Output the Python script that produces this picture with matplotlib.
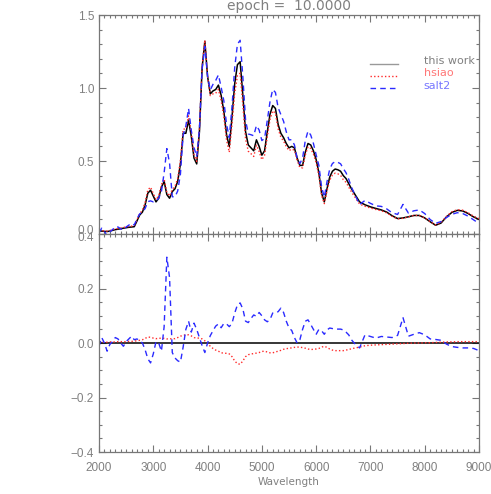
import numpy as np
import matplotlib
matplotlib.use('Agg')
import matplotlib.pyplot as plt
import matplotlib.transforms as mtransforms

# wavelength grid: 50 A steps to 6700, then 100 A steps to 9000
wave = np.concatenate([np.arange(2000, 6701, 50), np.arange(6800, 9001, 100)])

this_work = [
    0.020, 0.020, 0.018, 0.017, 0.020, 0.025, 0.030, 0.033, 0.036, 0.040,
    0.043, 0.046, 0.048, 0.050, 0.090, 0.130, 0.150, 0.200, 0.280, 0.300,
    0.260, 0.220, 0.245, 0.320, 0.360, 0.270, 0.245, 0.290, 0.310, 0.360,
    0.480, 0.690, 0.690, 0.780, 0.670, 0.520, 0.480, 0.700, 1.140, 1.320,
    1.080, 0.960, 0.980, 0.990, 1.020, 0.950, 0.840, 0.680, 0.600, 0.800,
    1.030, 1.160, 1.180, 0.950, 0.700, 0.610, 0.590, 0.570, 0.645, 0.600,
    0.540, 0.570, 0.700, 0.820, 0.880, 0.860, 0.750, 0.690, 0.660, 0.620,
    0.590, 0.600, 0.590, 0.520, 0.470, 0.470, 0.560, 0.620, 0.610, 0.570,
    0.510, 0.420, 0.280, 0.220, 0.310, 0.390, 0.430, 0.445, 0.440, 0.430,
    0.400, 0.380, 0.345, 0.310, 0.280,
    0.220, 0.200, 0.186, 0.175, 0.165, 0.150, 0.125, 0.106, 0.110, 0.118,
    0.127, 0.127, 0.110, 0.084, 0.060, 0.075, 0.117, 0.148, 0.162, 0.158,
    0.140, 0.117, 0.100,
]

hsiao = [
    0.023, 0.023, 0.021, 0.020, 0.024, 0.029, 0.034, 0.038, 0.041, 0.045,
    0.048, 0.052, 0.054, 0.057, 0.098, 0.140, 0.162, 0.217, 0.302, 0.321,
    0.278, 0.236, 0.262, 0.338, 0.377, 0.285, 0.260, 0.306, 0.326, 0.380,
    0.505, 0.718, 0.720, 0.810, 0.696, 0.540, 0.498, 0.718, 1.155, 1.328,
    1.080, 0.948, 0.960, 0.964, 0.990, 0.914, 0.803, 0.642, 0.560, 0.750,
    0.964, 1.084, 1.102, 0.884, 0.650, 0.567, 0.550, 0.531, 0.608, 0.565,
    0.509, 0.540, 0.667, 0.784, 0.844, 0.827, 0.720, 0.663, 0.637, 0.599,
    0.571, 0.582, 0.574, 0.505, 0.455, 0.453, 0.541, 0.598, 0.586, 0.547,
    0.488, 0.400, 0.265, 0.208, 0.294, 0.368, 0.404, 0.417, 0.412, 0.402,
    0.372, 0.354, 0.321, 0.289, 0.261,
    0.205, 0.190, 0.178, 0.168, 0.159, 0.145, 0.121, 0.103, 0.108, 0.117,
    0.127, 0.127, 0.111, 0.085, 0.062, 0.078, 0.121, 0.152, 0.167, 0.163,
    0.145, 0.122, 0.105,
]

salt2 = [
    0.008, 0.040, 0.018, -0.013, 0.015, 0.030, 0.050, 0.048, 0.036, 0.028,
    0.048, 0.061, 0.073, 0.062, 0.105, 0.138, 0.150, 0.175, 0.222, 0.227,
    0.220, 0.225, 0.245, 0.290, 0.420, 0.585, 0.485, 0.255, 0.255, 0.295,
    0.410, 0.675, 0.740, 0.860, 0.710, 0.593, 0.530, 0.720, 1.130, 1.285,
    1.080, 0.987, 1.025, 1.052, 1.090, 1.006, 0.912, 0.750, 0.660, 0.872,
    1.140, 1.300, 1.327, 1.075, 0.780, 0.685, 0.680, 0.673, 0.743, 0.712,
    0.640, 0.655, 0.778, 0.906, 0.990, 0.970, 0.865, 0.818, 0.772, 0.700,
    0.645, 0.646, 0.610, 0.520, 0.482, 0.520, 0.640, 0.705, 0.678, 0.620,
    0.542, 0.470, 0.325, 0.252, 0.358, 0.445, 0.483, 0.496, 0.491, 0.481,
    0.448, 0.420, 0.375, 0.322, 0.280,
    0.202, 0.230, 0.210, 0.193, 0.189, 0.172, 0.145, 0.134, 0.203, 0.143,
    0.159, 0.165, 0.140, 0.099, 0.073, 0.085, 0.113, 0.135, 0.146, 0.140,
    0.122, 0.097, 0.072,
]

# residuals (model - this work)
resid_hsiao = [
    0.003, 0.003, 0.003, 0.003, 0.004, 0.004, 0.004, 0.005, 0.005, 0.005,
    0.005, 0.006, 0.006, 0.007, 0.008, 0.010, 0.012, 0.017, 0.022, 0.021,
    0.018, 0.016, 0.017, 0.018, 0.017, 0.015, 0.015, 0.016, 0.016, 0.020,
    0.025, 0.028, 0.030, 0.030, 0.026, 0.020, 0.018, 0.018, 0.015, 0.008,
    0.000, -0.012, -0.020, -0.026, -0.030, -0.036, -0.037, -0.038, -0.040, -0.050,
    -0.066, -0.076, -0.078, -0.066, -0.050, -0.043, -0.040, -0.039, -0.037, -0.035,
    -0.031, -0.030, -0.033, -0.036, -0.036, -0.033, -0.030, -0.027, -0.023, -0.021,
    -0.019, -0.018, -0.016, -0.015, -0.015, -0.017, -0.019, -0.022, -0.024, -0.023,
    -0.022, -0.020, -0.015, -0.012, -0.016, -0.022, -0.026, -0.028, -0.028, -0.028,
    -0.028, -0.026, -0.024, -0.021, -0.019,
    -0.015, -0.010, -0.008, -0.007, -0.006, -0.005, -0.004, -0.003, -0.002, -0.001,
    0.000, 0.000, 0.001, 0.001, 0.002, 0.003, 0.004, 0.004, 0.005, 0.005,
    0.005, 0.005, 0.005,
]

resid_salt2 = [
    -0.012, 0.020, 0.000, -0.030, -0.005, 0.005, 0.020, 0.015, 0.000, -0.012,
    0.005, 0.015, 0.025, 0.012, 0.015, 0.008, 0.000, -0.025, -0.058, -0.073,
    -0.040, 0.005, 0.000, -0.030, 0.060, 0.315, 0.240, -0.035, -0.055, -0.065,
    -0.070, -0.015, 0.050, 0.080, 0.040, 0.073, 0.050, 0.020, -0.010, -0.035,
    0.000, 0.027, 0.045, 0.062, 0.070, 0.056, 0.072, 0.070, 0.060, 0.072,
    0.110, 0.140, 0.147, 0.125, 0.080, 0.075, 0.090, 0.103, 0.098, 0.112,
    0.100, 0.085, 0.078, 0.086, 0.110, 0.110, 0.115, 0.128, 0.112, 0.080,
    0.055, 0.046, 0.020, 0.000, 0.012, 0.050, 0.080, 0.085, 0.068, 0.050,
    0.032, 0.050, 0.045, 0.032, 0.048, 0.055, 0.053, 0.051, 0.051, 0.051,
    0.048, 0.040, 0.030, 0.012, 0.000,
    -0.018, 0.030, 0.024, 0.018, 0.024, 0.022, 0.020, 0.028, 0.093, 0.025,
    0.032, 0.038, 0.030, 0.015, 0.013, 0.010, -0.004, -0.013, -0.016, -0.018,
    -0.018, -0.020, -0.028,
]

top_yticks = [0.0, 0.5, 1.0, 1.5]
res_yticks = [-0.4, -0.2, 0.0, 0.2, 0.4]

GRAY = '#808080'
AXC = '#777777'
BLUE = '#2a2aff'
RED = '#ff2a2a'
TICKFONT = 'Liberation Sans'

plt.rcParams['font.family'] = 'DejaVu Sans'
plt.rcParams['font.size'] = 8

fig = plt.figure(figsize=(4.91, 4.94), dpi=100)
ax1 = fig.add_axes([0.2016, 0.5263, 0.774, 0.4433])
ax2 = fig.add_axes([0.2016, 0.085, 0.774, 0.4413])


def style(ax, yticks, yminor):
    ax.set_xlim(2000, 9000)
    ax.set_xticks(np.arange(2000, 9001, 1000))
    ax.set_xticks(np.arange(2000, 9001, 100), minor=True)
    ax.set_yticks(yticks)
    ax.set_yticklabels([f'{v:.1f}'.replace('-', '\u2212') for v in yticks])
    ax.yaxis.set_minor_locator(matplotlib.ticker.MultipleLocator(yminor))
    ax.tick_params(which='both', direction='in', top=True, right=True,
                   color=AXC, labelcolor=GRAY, width=0.8, labelsize=8.5,
                   labelfontfamily=TICKFONT)
    ax.tick_params(which='major', length=5)
    ax.tick_params(which='minor', length=2.5)
    ax.tick_params(axis='x', pad=7)
    for s in ax.spines.values():
        s.set_color(AXC)
        s.set_linewidth(0.9)


# --- top: spectra ---
ax1.plot(wave, this_work, color='black', lw=1.1)
ax1.plot(wave, hsiao, color=RED, lw=1.0, ls=(0, (1, 1.6)))
ax1.plot(wave, salt2, color=BLUE, lw=1.0, ls=(0, (4, 3)))
style(ax1, top_yticks, 0.1)
ax1.set_ylim(0, 1.5)
ax1.tick_params(labelbottom=False)

# legend drawn by hand (IDL style)
leg = [('this work', '#999999', '-', GRAY),
       ('hsiao', RED, (0, (1, 1.6)), '#ff7777'),
       ('salt2', BLUE, (0, (4, 3)), '#7777ff')]
for i, (lab, lc, ls, tc) in enumerate(leg):
    yl = 0.776 - i * 0.055
    ax1.plot([0.713, 0.787], [yl, yl], transform=ax1.transAxes,
             color=lc, ls=ls, lw=1.0)
    ax1.text(0.855, yl + 0.012, lab, transform=ax1.transAxes,
             color=tc, fontsize=8, va='center', ha='left')

# --- bottom: residuals ---
ax2.axhline(0, color='black', lw=1.1)
ax2.plot(wave, resid_hsiao, color=RED, lw=1.0, ls=(0, (1, 1.6)))
ax2.plot(wave, resid_salt2, color=BLUE, lw=1.0, ls=(0, (4, 3)))
style(ax2, res_yticks, 0.05)
ax2.set_ylim(-0.4, 0.4)
ax2.set_xlabel('Wavelength', color=GRAY, fontsize=7.5, labelpad=2)

# the shared-edge labels overlap a little, as in the original
lab0 = ax1.get_yticklabels()[0]
lab0.set_transform(lab0.get_transform() +
                   mtransforms.ScaledTranslation(0, 3 / 72, fig.dpi_scale_trans))
lab4 = ax2.get_yticklabels()[-1]
lab4.set_transform(lab4.get_transform() +
                   mtransforms.ScaledTranslation(0, -2 / 72, fig.dpi_scale_trans))

fig.text(289 / 491, 0.988, 'epoch =  10.0000', color=GRAY, fontsize=10,
         ha='center', va='center')

fig.savefig('out.png', dpi=100)
